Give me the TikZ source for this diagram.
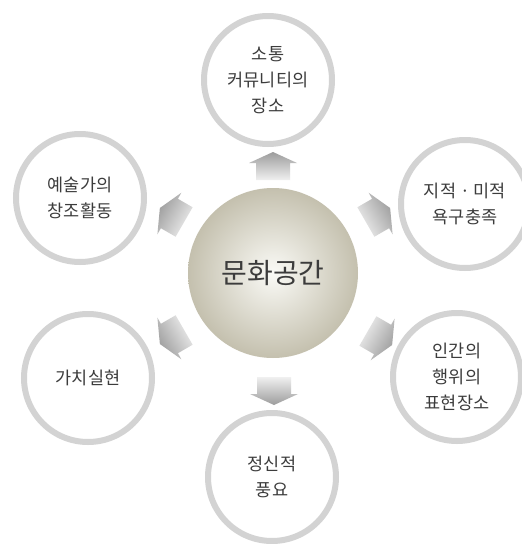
\documentclass[tikz,border=0pt]{standalone}
\usepackage{fontspec}
\newfontfamily\kr{Noto Sans CJK KR}
\definecolor{ringgray}{HTML}{D3D3D3}
\definecolor{txt}{HTML}{3C3C3C}
\definecolor{hubin}{HTML}{FAFAF6}
\definecolor{hubout}{HTML}{C4C0AE}
\definecolor{arrdark}{HTML}{9C9C9C}
\definecolor{arrlight}{HTML}{F0F0F0}
\newcommand\blockarr[5]{% name, x, y, angle, shading angle
  \coordinate (#1) at (#2,#3);
  \begin{scope}[shift={(#1)}, rotate=#4]
    \path[bottom color=arrlight, top color=arrdark, shading angle=#5]
      (-14,-17) -- (3,-17) -- (3,-24) -- (14,0) -- (3,24) -- (3,17) -- (-14,17) -- cycle;
  \end{scope}}
\begin{document}
\begin{tikzpicture}[x=1pt,y=-1pt,
  outer/.style={circle, draw=ringgray, line width=6pt, fill=white, minimum size=128pt,
    inner sep=0pt, align=center, text=txt, font=\kr\fontsize{17.5}{26}\selectfont},
  hub/.style={circle, minimum size=170pt, inner sep=0pt, inner color=hubin, outer color=hubout,
    text=txt, font=\kr\fontsize{28}{32}\selectfont}]
\useasboundingbox (0,0) rectangle (522,544);
\fill[white] (0,0) rectangle (522,544);

\blockarr{aT}{273}{166}{90}{0}
\blockarr{aB}{274}{391}{-90}{180}
\blockarr{aUR}{378}{215}{30}{-60}
\blockarr{aLR}{380}{338}{-30}{-120}
\blockarr{aUL}{172}{215}{150}{60}
\blockarr{aLL}{172}{337}{210}{120}

\node[hub] (hub) at (273,273) {문화공간};

\node[outer] (top) at (268,80) {소통\\커뮤니티의\\장소};
\node[outer] (ur) at (465,204) {지적 · 미적\\욕구충족};
\node[outer] (lr) at (457,377) {인간의\\행위의\\표현장소};
\node[outer] (bot) at (272,477) {정신적\\풍요};
\node[outer] (ll) at (88,378) {가치실현};
\node[outer] (ul) at (80,198) {예술가의\\창조활동};
\end{tikzpicture}
\end{document}
